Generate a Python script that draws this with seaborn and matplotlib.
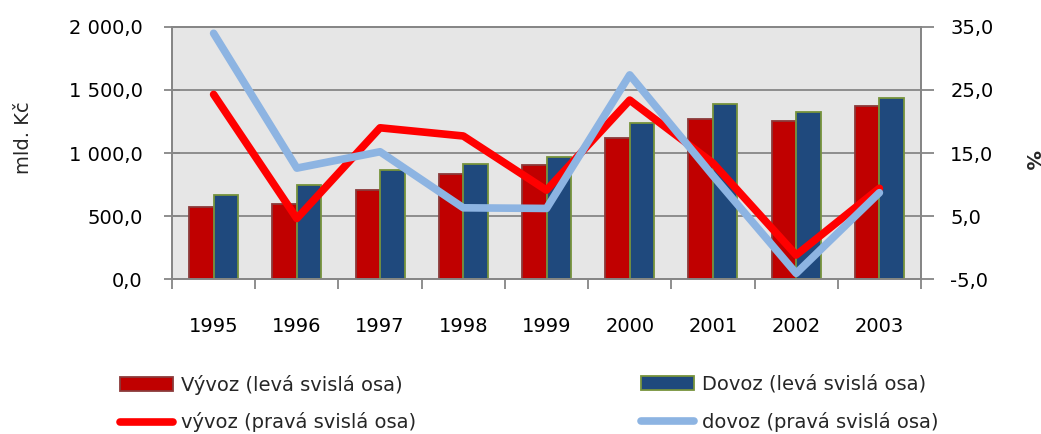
import matplotlib
matplotlib.use("Agg")
import matplotlib.pyplot as plt
import matplotlib.ticker as mticker
from matplotlib.patches import Patch
from matplotlib.lines import Line2D
import numpy as np
import pandas as pd
import seaborn as sns

# ---- data ----
years = ["1995", "1996", "1997", "1998", "1999", "2000", "2001", "2002", "2003"]
vyvoz_mld = [571, 597, 708, 834, 908, 1121, 1271, 1255, 1371]
dovoz_mld = [669, 748, 863, 913, 972, 1238, 1386, 1325, 1440]
vyvoz_pct = [24.3, 4.6, 19.0, 17.7, 9.1, 23.4, 13.4, -1.2, 9.4]
dovoz_pct = [34.0, 12.6, 15.2, 6.3, 6.2, 27.4, 11.4, -4.1, 8.7]
bar_labels = ["Vývoz (levá svislá osa)", "Dovoz (levá svislá osa)"]
line_labels = ["vývoz (pravá svislá osa)", "dovoz (pravá svislá osa)"]
left_label = "mld. Kč"
right_label = "%"

sns.set_theme(style="white")
plt.rcParams["font.family"] = ["DejaVu Sans"]
FS = 14

bar_colors = ["#C00000", "#1F497D"]
bar_edges = ["#8B3A3A", "#77933C"]
line_colors = ["#FF0000", "#8DB4E2"]
gray = "#868686"

fig = plt.figure(figsize=(10.41, 4.34), dpi=100)
ax = fig.add_axes([0.16523, 0.35714, 0.71950, 0.58065])
ax.set_facecolor("#E6E6E6")

df = pd.DataFrame({
    "year": years * 2,
    "value": vyvoz_mld + dovoz_mld,
    "series": [bar_labels[0]] * len(years) + [bar_labels[1]] * len(years),
})
sns.barplot(data=df, x="year", y="value", hue="series", order=years,
            hue_order=bar_labels, palette=bar_colors, width=0.59, gap=0,
            saturation=1, ax=ax, legend=False, zorder=3)
for cont, ec in zip(ax.containers, bar_edges):
    for p in cont:
        p.set_edgecolor(ec)
        p.set_linewidth(1.3)

ax.set_xlim(-0.5, len(years) - 0.5)
ax.set_ylim(0, 2000)
ax.set_yticks(np.arange(0, 2001, 500))
ax.yaxis.set_major_formatter(mticker.FuncFormatter(
    lambda v, p: f"{v:,.1f}".replace(",", " ").replace(".", ",")))
ax.yaxis.grid(True, color=gray, lw=1.3, zorder=1)
ax.set_axisbelow(True)
ax.set_xlabel("")
ax.set_ylabel("")
ax.tick_params(axis="y", which="major", direction="inout", length=12,
               width=1.3, color=gray, pad=15, labelsize=FS, labelcolor="black",
               left=True)
ax.set_xticks(np.arange(len(years)))
ax.set_xticklabels(years)
ax.set_xticks(np.arange(len(years) + 1) - 0.5, minor=True)
ax.tick_params(axis="x", which="major", length=0, pad=27, labelsize=FS,
               labelcolor="black")
ax.tick_params(axis="x", which="minor", direction="out", length=7,
               width=1.3, color=gray, bottom=True)
for s in ax.spines.values():
    s.set_color(gray)
    s.set_linewidth(1.3)

ax2 = ax.twinx()
xpos = np.arange(len(years))
for vals, c in zip([vyvoz_pct, dovoz_pct], line_colors):
    sns.lineplot(x=xpos, y=vals, ax=ax2, color=c, linewidth=5.5,
                 solid_capstyle="round", legend=False)
ax2.set_ylim(-5, 35)
ax2.set_yticks(np.arange(-5, 36, 10))
ax2.yaxis.set_major_formatter(mticker.FuncFormatter(
    lambda v, p: f"{v:.1f}".replace(".", ",")))
ax2.set_ylabel("")
ax2.tick_params(axis="y", direction="out", length=9, width=1.3, color=gray,
                pad=12, labelsize=FS, labelcolor="black", right=True)
for s in ax2.spines.values():
    s.set_color(gray)
    s.set_linewidth(1.3)

fig.text(23.5 / 1041, 1 - 137.5 / 434, left_label, rotation=90,
         ha="center", va="center", fontsize=FS)
fig.text(1031 / 1041, 1 - 160 / 434, right_label, rotation=270,
         ha="center", va="center", fontsize=FS, fontweight="bold")

leg_kw = dict(loc="upper left", frameon=False, fontsize=FS, borderpad=0,
              borderaxespad=0, handlelength=2.7, handleheight=0.75,
              handletextpad=0.45, labelspacing=0.9)
for i, x0 in enumerate([120, 641]):
    handles = [Patch(facecolor=bar_colors[i], edgecolor=bar_edges[i], lw=1.3),
               Line2D([0], [0], color=line_colors[i], lw=5.5,
                      solid_capstyle="round")]
    fig.legend(handles, [bar_labels[i], line_labels[i]],
               bbox_to_anchor=(x0 / 1041, 1 - 375 / 434), **leg_kw)

fig.savefig("out.png", dpi=100)
